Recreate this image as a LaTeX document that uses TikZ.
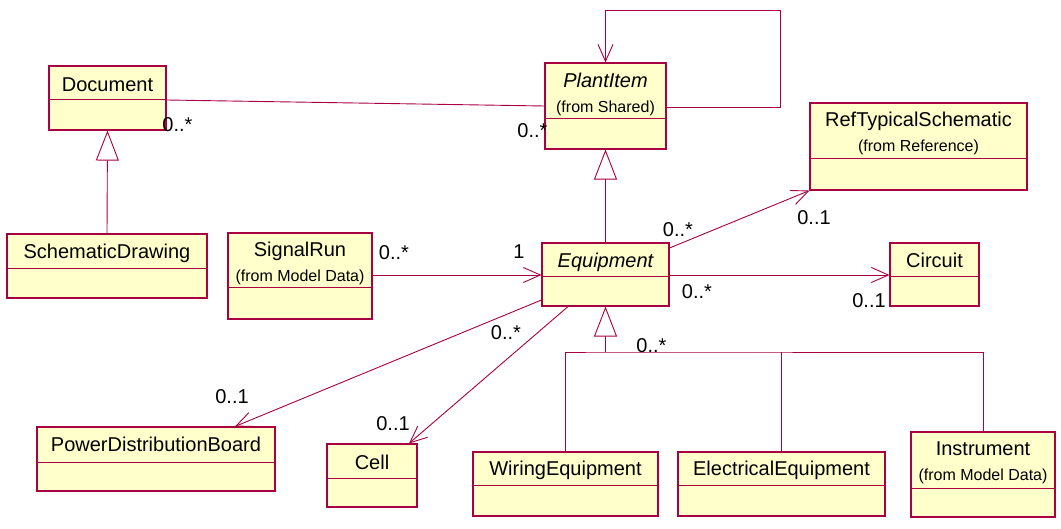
\documentclass[tikz,border=0pt]{standalone}
\usepackage{fontspec}
\setmainfont{Liberation Sans}
\usetikzlibrary{arrows.meta,fit,calc}
\definecolor{lncol}{RGB}{168,0,64}
\definecolor{clsfill}{RGB}{255,255,204}
\newcommand\bigf{\fontsize{20}{24}\selectfont}
\newcommand\smallf{\fontsize{16}{19}\selectfont}
\newcommand\umlcls[6]{%
  \node[cls, fit={(#2,#3) (#4,#5)}] (#1) {};
  \draw[clsline] (#1.west |- 0,#6) -- (#1.east |- 0,#6);}
\begin{document}
\begin{tikzpicture}[x=1pt,y=-1pt,
  cls/.style={draw=lncol, fill=clsfill, line width=1.1pt, inner sep=0pt},
  clsline/.style={draw=lncol, line width=1pt},
  nm/.style={anchor=base, inner sep=0pt, font=\bigf},
  sub/.style={anchor=base, inner sep=0pt, font=\smallf},
  mult/.style={anchor=base, inner sep=0pt, font=\bigf},
  conn/.style={draw=lncol, line width=0.9pt},
  assoc/.style={conn, -{Straight Barb[length=17pt,width=15pt]}},
  gen/.style={conn, -{Triangle[length=30pt,width=23pt,fill=white]}}
]
\useasboundingbox (0,0) rectangle (1061,529);

% classes
\umlcls{doc}{49}{66}{166}{130}{100}
\umlcls{plant}{545}{63}{666}{149}{119}
\umlcls{ref}{810}{103}{1027}{190}{159}
\umlcls{sch}{7}{234}{207}{298}{269}
\umlcls{sig}{228}{233}{372}{319}{288}
\umlcls{equip}{542}{243}{669}{306}{277}
\umlcls{circ}{890}{243}{979}{306}{277}
\umlcls{pdb}{37}{427}{275}{491}{462}
\umlcls{cell}{327}{444}{417}{507}{478}
\umlcls{wir}{473}{452}{658}{516}{485}
\umlcls{elec}{678}{452}{885}{516}{485}
\umlcls{inst}{911}{432}{1055}{517}{488}

% class texts
\node[nm] (docT) at (107.5,92) {Document};
\node[nm] (plantT) at (605.5,88) {\itshape PlantItem};
\node[sub] (plantS) at (605.5,113) {(from Shared)};
\node[nm] (refT) at (918.5,127) {RefTypicalSchematic};
\node[sub] (refS) at (918.5,151.5) {(from Reference)};
\node[nm] (schT) at (107,259) {SchematicDrawing};
\node[nm] (sigT) at (300,256.5) {SignalRun};
\node[sub] (sigS) at (300,282) {(from Model Data)};
\node[nm] (equipT) at (605.5,268) {\itshape Equipment};
\node[nm] (circT) at (934.5,267.5) {Circuit};
\node[nm] (pdbT) at (156,451.5) {PowerDistributionBoard};
\node[nm] (cellT) at (372,469) {Cell};
\node[nm] (wirT) at (565.5,475.5) {WiringEquipment};
\node[nm] (elecT) at (781.5,475.5) {ElectricalEquipment};
\node[nm] (instT) at (983,456) {Instrument};
\node[sub] (instS) at (983,480.5) {(from Model Data)};

% associations
\draw[conn] (doc.east |- 0,100) -- (plant.west |- 0,106);
\coordinate (loopA) at (780,107);
\coordinate (loopB) at (780,10);
\draw[assoc] (plant.east |- loopA) -- (loopA) -- (loopB) -- (plant.north |- loopB) -- (plant.north);
\draw[assoc] (sig.east |- 0,275) -- (equip.west |- 0,275);
\draw[assoc] (equip.east |- 0,275) -- (circ.west |- 0,275);
\draw[assoc] (equip.east |- 0,248) -- (ref.south west);
\draw[assoc] (equip.west |- 0,300) -- (pdb.north -| 235,0);
\draw[assoc] (equip.south -| 568,0) -- (cell.north -| 409,0);

% generalizations
\draw[gen] (sch.north) -- (doc.south);
\draw[gen] (equip.north) -- (plant.south);
\coordinate (bus) at (605.5,352);
\draw[gen] (bus) -- (equip.south);
\draw[conn] (wir.north) |- (bus) -- (inst.north |- bus) -- (inst.north);
\draw[conn] (elec.north) -- (elec.north |- bus);

% multiplicities
\node[mult] (m1) at (177.5,131.5) {0..*};
\node[mult] (m2) at (532.5,138) {0..*};
\node[mult] (m3) at (678,237) {0..*};
\node[mult] (m4) at (814,225) {0..1};
\node[mult] (m5) at (697,299) {0..*};
\node[mult] (m6) at (869,307.5) {0..1};
\node[mult] (m7) at (394,260) {0..*};
\node[mult] (m8) at (519,259) {1};
\node[mult] (m9) at (506,340) {0..*};
\node[mult] (m10) at (651.5,353) {0..*};
\node[mult] (m11) at (232,403) {0..1};
\node[mult] (m12) at (393,430.5) {0..1};
\end{tikzpicture}
\end{document}
